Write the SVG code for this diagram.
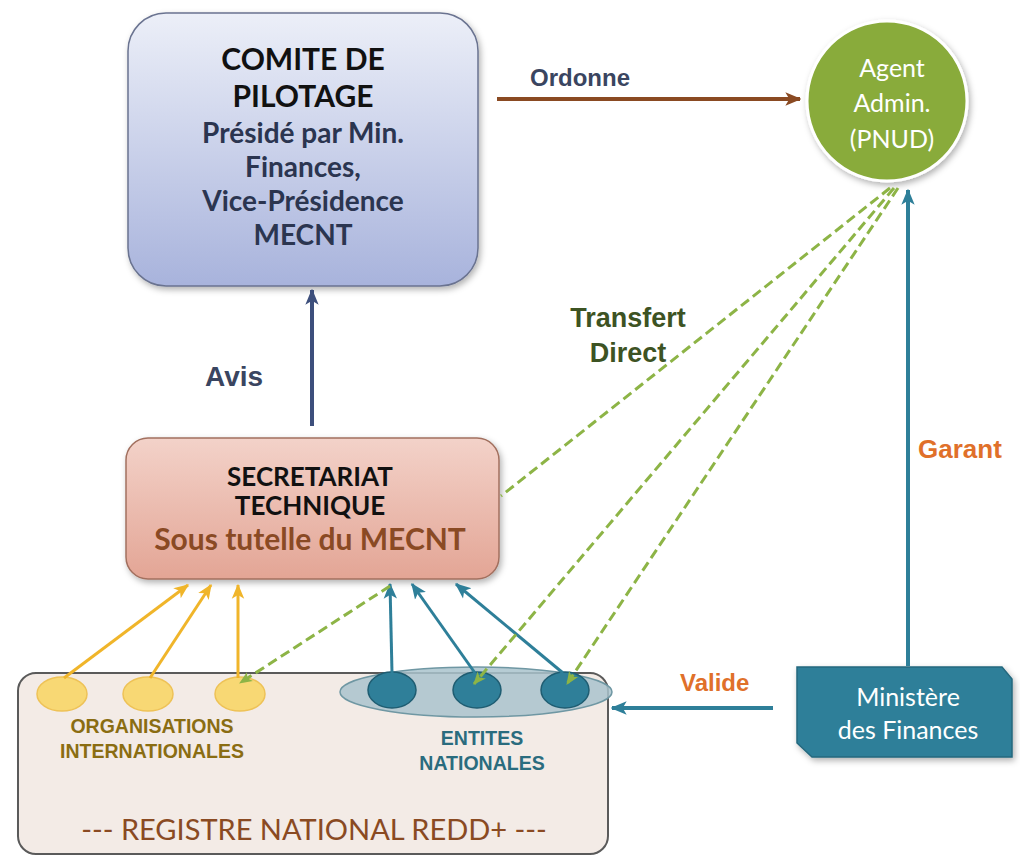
<svg xmlns="http://www.w3.org/2000/svg" width="1020" height="857" viewBox="0 0 1020 857">
<style>
.gs{font-family:Lato,"Open Sans","DejaVu Sans",sans-serif}
.ar{font-family:"Liberation Sans",Arial,sans-serif;font-weight:bold}
.b{font-weight:bold}
.mid{text-anchor:middle}
.dash{fill:none;stroke:#8db446;stroke-width:3;stroke-dasharray:10 5}
</style>
<defs>
<linearGradient id="gBlue" x1="0" y1="0" x2="0" y2="1">
<stop offset="0" stop-color="#eceff8"/><stop offset="1" stop-color="#a8b3dc"/>
</linearGradient>
<linearGradient id="gPink" x1="0" y1="0" x2="0" y2="1">
<stop offset="0" stop-color="#f3d2c9"/><stop offset="1" stop-color="#e3a595"/>
</linearGradient>
<filter id="sh" x="-10%" y="-10%" width="125%" height="130%">
<feDropShadow dx="2" dy="3" stdDeviation="3" flood-color="#000" flood-opacity="0.3"/>
</filter>
<marker id="mBrown" viewBox="0 0 12 12" refX="11" refY="6" markerWidth="16" markerHeight="16" markerUnits="userSpaceOnUse" orient="auto"><path d="M0,1 L12,6 L0,11 L3,6 z" fill="#8a4a22"/></marker>
<marker id="mNavy" viewBox="0 0 12 12" refX="11" refY="6" markerWidth="16" markerHeight="16" markerUnits="userSpaceOnUse" orient="auto"><path d="M0,1 L12,6 L0,11 L3,6 z" fill="#3d4f7c"/></marker>
<marker id="mTeal" viewBox="0 0 12 12" refX="11" refY="6" markerWidth="16" markerHeight="16" markerUnits="userSpaceOnUse" orient="auto"><path d="M0,1 L12,6 L0,11 L3,6 z" fill="#2e7f99"/></marker>
<marker id="mGold" viewBox="0 0 12 12" refX="11" refY="6" markerWidth="15" markerHeight="15" markerUnits="userSpaceOnUse" orient="auto"><path d="M0,1 L12,6 L0,11 L3,6 z" fill="#f0b52a"/></marker>
<marker id="mGreen" viewBox="0 0 12 12" refX="11" refY="6" markerWidth="13" markerHeight="13" markerUnits="userSpaceOnUse" orient="auto"><path d="M0,1 L12,6 L0,11 L3,6 z" fill="#8db446"/></marker>
</defs>
<rect width="1020" height="857" fill="#fff"/>

<g id="registre">
<rect x="18" y="673" width="590" height="181" rx="18" fill="#f3ebe6" stroke="#5a5a5a" stroke-width="2"/>
<text class="gs mid" x="314" y="840" font-size="29" fill="#8a4a22">--- REGISTRE NATIONAL REDD+ ---</text>
</g>

<g id="organisations">
<ellipse cx="62" cy="694" rx="25" ry="17" fill="#f8d874" stroke="#eec257" stroke-width="1.5"/>
<ellipse cx="148" cy="694" rx="25" ry="17" fill="#f8d874" stroke="#eec257" stroke-width="1.5"/>
<ellipse cx="240" cy="694" rx="25" ry="17" fill="#f8d874" stroke="#eec257" stroke-width="1.5"/>
<text class="ar mid" x="152" y="733" font-size="19.5" fill="#8a6d12">ORGANISATIONS</text>
<text class="ar mid" x="152" y="758" font-size="19.5" fill="#8a6d12">INTERNATIONALES</text>
</g>

<g id="entites">
<ellipse cx="476" cy="692" rx="136" ry="25" fill="#a9c3cc" fill-opacity="0.85" stroke="#6f97a3" stroke-width="1.5"/>
<ellipse cx="392" cy="690" rx="24" ry="18" fill="#2f7f99" stroke="#1f5d72" stroke-width="1.5"/>
<ellipse cx="477" cy="690" rx="24" ry="18" fill="#2f7f99" stroke="#1f5d72" stroke-width="1.5"/>
<ellipse cx="565" cy="690" rx="24" ry="18" fill="#2f7f99" stroke="#1f5d72" stroke-width="1.5"/>
<text class="ar mid" x="482" y="745" font-size="19.5" fill="#2a6c7e">ENTITES</text>
<text class="ar mid" x="482" y="770" font-size="19.5" fill="#2a6c7e">NATIONALES</text>
</g>

<g id="comite">
<rect x="128" y="13" width="350" height="273" rx="38" fill="url(#gBlue)" stroke="#6a7390" stroke-width="1.5" filter="url(#sh)"/>
<g class="gs b mid">
<text x="303" y="70" font-size="30" fill="#111">COMITE DE</text>
<text x="303" y="107" font-size="30" fill="#111">PILOTAGE</text>
<text x="303" y="143" font-size="28" fill="#2b3550">Présidé par Min.</text>
<text x="303" y="177" font-size="28" fill="#2b3550">Finances,</text>
<text x="303" y="211" font-size="28" fill="#2b3550">Vice-Présidence</text>
<text x="303" y="245" font-size="28" fill="#2b3550">MECNT</text>
</g>
</g>

<g id="agent">
<circle cx="887" cy="101" r="80" fill="#89ab3b" stroke="#fff" stroke-width="3" filter="url(#sh)"/>
<g class="gs mid" font-size="25" fill="#fff">
<text x="892" y="77">Agent</text>
<text x="892" y="112">Admin.</text>
<text x="892" y="148">(PNUD)</text>
</g>
</g>

<g id="secretariat">
<rect x="126" y="438" width="373" height="141" rx="22" fill="url(#gPink)" stroke="#a2705f" stroke-width="1.5" filter="url(#sh)"/>
<g class="gs b mid">
<text x="310" y="486" font-size="26" fill="#111">SECRETARIAT</text>
<text x="310" y="515" font-size="26" fill="#111">TECHNIQUE</text>
<text x="310" y="550" font-size="30" fill="#8a4a24">Sous tutelle du MECNT</text>
</g>
</g>

<g id="ministere">
<polygon points="797,667 1002,667 1012,679 1012,757 812,757 797,743" fill="#2f7f99" stroke="#24687e" stroke-width="1.5" filter="url(#sh)"/>
<g class="gs mid" font-size="25" fill="#fff">
<text x="908" y="706">Ministère</text>
<text x="908" y="739">des Finances</text>
</g>
</g>

<g id="connectors">
<line x1="497" y1="99" x2="800" y2="99" stroke="#8a4a22" stroke-width="4" marker-end="url(#mBrown)"/>
<line x1="312" y1="426" x2="312" y2="290" stroke="#3d4f7c" stroke-width="4" marker-end="url(#mNavy)"/>
<line x1="908" y1="666" x2="908" y2="190" stroke="#2e7f99" stroke-width="4" marker-end="url(#mTeal)"/>
<line x1="773" y1="708" x2="612" y2="708" stroke="#2e7f99" stroke-width="4" marker-end="url(#mTeal)"/>
<line x1="64" y1="678" x2="188" y2="585" stroke="#f0b52a" stroke-width="3" marker-end="url(#mGold)"/>
<line x1="150" y1="678" x2="211" y2="585" stroke="#f0b52a" stroke-width="3" marker-end="url(#mGold)"/>
<line x1="238" y1="678" x2="238" y2="585" stroke="#f0b52a" stroke-width="3" marker-end="url(#mGold)"/>
<line x1="392" y1="673" x2="390" y2="584" stroke="#2e7f99" stroke-width="3" marker-end="url(#mTeal)"/>
<line x1="475" y1="673" x2="412" y2="584" stroke="#2e7f99" stroke-width="3" marker-end="url(#mTeal)"/>
<line x1="563" y1="673" x2="456" y2="584" stroke="#2e7f99" stroke-width="3" marker-end="url(#mTeal)"/>
<line class="dash" x1="890" y1="188" x2="501" y2="496"/>
<line class="dash" x1="894" y1="188" x2="474" y2="684" marker-end="url(#mGreen)"/>
<line class="dash" x1="898" y1="188" x2="567" y2="684" marker-end="url(#mGreen)"/>
<line class="dash" x1="390" y1="586" x2="240" y2="683" marker-end="url(#mGreen)"/>
</g>

<g id="labels">
<text class="ar" x="530" y="86" font-size="24" fill="#3a4560">Ordonne</text>
<text class="ar" x="205" y="386" font-size="28" fill="#3a4560">Avis</text>
<text class="ar mid" x="628" y="327" font-size="27" fill="#3d5323">Transfert</text>
<text class="ar mid" x="628" y="362" font-size="27" fill="#3d5323">Direct</text>
<text class="ar" x="918" y="458" font-size="26" fill="#e0702a">Garant</text>
<text class="ar" x="680" y="691" font-size="24" fill="#e0702a">Valide</text>
</g>
</svg>
